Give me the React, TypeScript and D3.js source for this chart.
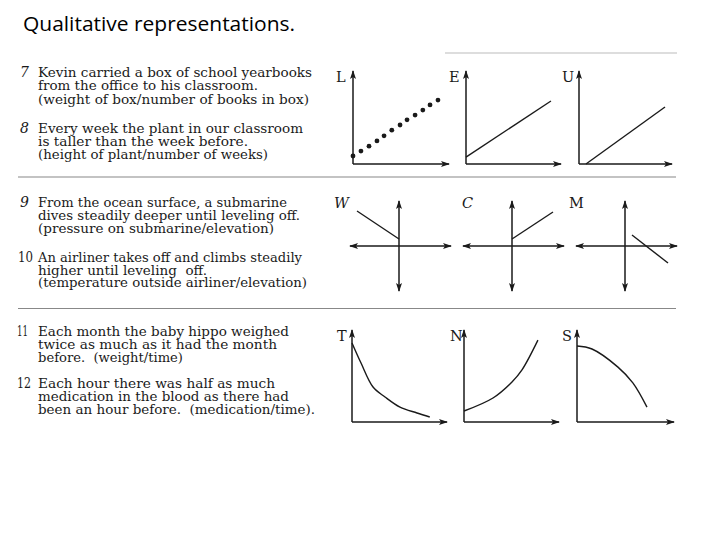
import React from "react";
import * as d3 from "d3";

// ---------- DATA ----------
const TITLE = "Qualitative representations.";

const ITEM_NUMBERS = ["7", "8", "9", "10", "11", "12"];
const ITEM_LINES: string[][] = [
  ["Kevin carried a box of school yearbooks", "from the office to his classroom.", "(weight of box/number of books in box)"],
  ["Every week the plant in our classroom", "is taller than the week before.", "(height of plant/number of weeks)"],
  ["From the ocean surface, a submarine", "dives steadily deeper until leveling off.", "(pressure on submarine/elevation)"],
  ["An airliner takes off and climbs steadily", "higher until leveling  off.", "(temperature outside airliner/elevation)"],
  ["Each month the baby hippo weighed", "twice as much as it had the month", "before.  (weight/time)"],
  ["Each hour there was half as much", "medication in the blood as there had", "been an hour before.  (medication/time)."],
];

// graph data in percent of axis length ([x, y])
const L_DOTS: [number, number][] = [
  [0, 8.5], [8.2, 13.8], [16.5, 19], [24.7, 24.5], [32, 30], [40, 36],
  [48.5, 41.5], [55.7, 47], [64, 52], [72, 57.4], [79.4, 62.8], [87.6, 68],
];
const E_LINE: [number, number][] = [[0, 7.4], [88.5, 67]];
const U_LINE: [number, number][] = [[7.4, 0], [91.5, 60.6]];

const W_LINE: [number, number][] = [[-42, 35], [0, 7]];
const C_LINE: [number, number][] = [[0, 7], [41, 34]];
const M_LINE: [number, number][] = [[7, 11], [43, -17]];

const T_CURVE: [number, number][] = [[0, 85], [9.4, 63.4], [21.9, 37.6], [34.4, 26.9], [50, 16], [67.7, 9.7], [81, 5.4]];
const N_CURVE: [number, number][] = [[0, 11.8], [30.2, 25.8], [50, 43], [60.4, 56], [77, 88]];
const S_CURVE: [number, number][] = [[0, 81.7], [15.3, 78.5], [41.8, 59], [57, 42], [71.4, 16]];

// ---------- LAYOUT ----------
const textLayout = [
  { numX: 20, numW: 0, baselines: [77, 90, 104], ends: [312, 258, 309], italic: true },
  { numX: 20, numW: 0, baselines: [132.5, 146, 158.5], ends: [303, 248, 268], italic: true },
  { numX: 20, numW: 0, baselines: [207, 220, 233], ends: [287, 300, 274], italic: true },
  { numX: 18, numW: 15, baselines: [261.5, 274.5, 287], ends: [302, 207, 307], italic: false },
  { numX: 17, numW: 11, baselines: [336, 349, 362], ends: [289, 277, 183], italic: false },
  { numX: 17, numW: 14, baselines: [388, 401, 414], ends: [275, 289, 315], italic: false },
];

type Quad = { label: string; ox: number; oy: number; xEnd: number; yTop: number; lx: number; data: [number, number][]; kind: "dots" | "line" | "curve" };
const quads: Quad[] = [
  { label: "L", ox: 353, oy: 164, xEnd: 450, yTop: 70, lx: 336, data: L_DOTS, kind: "dots" },
  { label: "E", ox: 466, oy: 164, xEnd: 562, yTop: 70, lx: 449, data: E_LINE, kind: "line" },
  { label: "U", ox: 579, oy: 164, xEnd: 673, yTop: 70, lx: 562, data: U_LINE, kind: "line" },
  { label: "T", ox: 352, oy: 422, xEnd: 448, yTop: 329, lx: 337, data: T_CURVE, kind: "curve" },
  { label: "N", ox: 464, oy: 422, xEnd: 560, yTop: 329, lx: 450, data: N_CURVE, kind: "curve" },
  { label: "S", ox: 577, oy: 422, xEnd: 675, yTop: 329, lx: 562, data: S_CURVE, kind: "curve" },
];

type Cross = { label: string; cx: number; cy: number; lx: number; italic: boolean; data: [number, number][] };
const crosses: Cross[] = [
  { label: "W", cx: 399, cy: 246, lx: 334, italic: true, data: W_LINE },
  { label: "C", cx: 512, cy: 246, lx: 462, italic: true, data: C_LINE },
  { label: "M", cx: 625, cy: 246, lx: 569, italic: false, data: M_LINE },
];

const SERIF = "'DejaVu Serif', 'Liberation Serif', serif";
const INK = "#1a1a1a";

function QuadGraph({ q }: { q: Quad }) {
  const x = d3.scaleLinear().domain([0, 100]).range([q.ox, q.xEnd]);
  const y = d3.scaleLinear().domain([0, 100]).range([q.oy, q.yTop]);
  const line = d3
    .line<[number, number]>()
    .x((d) => x(d[0]))
    .y((d) => y(d[1]))
    .curve(q.kind === "curve" ? d3.curveCatmullRom.alpha(0.5) : d3.curveLinear);
  const labelBase = q.yTop + 12;
  return (
    <g>
      <line x1={q.ox} y1={q.oy} x2={q.ox} y2={q.yTop + 1} stroke={INK} strokeWidth={1.5} markerEnd="url(#arr)" />
      <line x1={q.ox} y1={q.oy} x2={q.xEnd - 1} y2={q.oy} stroke={INK} strokeWidth={1.5} markerEnd="url(#arr)" />
      {q.kind === "dots"
        ? q.data.map((d, i) => <circle key={i} cx={x(d[0])} cy={y(d[1])} r={2.4} fill={INK} />)
        : <path d={line(q.data) || ""} fill="none" stroke={INK} strokeWidth={1.4} />}
      <text x={q.lx} y={labelBase} fontFamily={SERIF} fontSize={14.5} fill={INK}>{q.label}</text>
    </g>
  );
}

function CrossGraph({ c }: { c: Cross }) {
  const x = d3.scaleLinear().domain([-50, 50]).range([c.cx - 50, c.cx + 50]);
  const y = d3.scaleLinear().domain([-46, 46]).range([c.cy + 46, c.cy - 46]);
  const line = d3.line<[number, number]>().x((d) => x(d[0])).y((d) => y(d[1]));
  return (
    <g>
      <line x1={x(-49)} y1={y(0)} x2={x(52)} y2={y(0)} stroke={INK} strokeWidth={1.5} markerStart="url(#arr2)" markerEnd="url(#arr)" />
      <line x1={x(0)} y1={y(-45)} x2={x(0)} y2={y(45)} stroke={INK} strokeWidth={1.5} markerStart="url(#arr2)" markerEnd="url(#arr)" />
      <path d={line(c.data) || ""} fill="none" stroke={INK} strokeWidth={1.4} />
      <text x={c.lx} y={208} fontFamily={SERIF} fontSize={14.5} fontStyle={c.italic ? "italic" : "normal"} fill={INK}>{c.label}</text>
    </g>
  );
}

export default function App() {
  return (
    <svg width={720} height={540} style={{ position: "absolute", left: 0, top: 0, background: "#fff" }}>
      <defs>
        <marker id="arr" viewBox="0 0 9 6" refX={8} refY={3} markerWidth={9} markerHeight={6} markerUnits="userSpaceOnUse" orient="auto">
          <path d="M0,0 L9,3 L0,6 L2,3 z" fill={INK} />
        </marker>
        <marker id="arr2" viewBox="0 0 9 6" refX={8} refY={3} markerWidth={9} markerHeight={6} markerUnits="userSpaceOnUse" orient="auto-start-reverse">
          <path d="M0,0 L9,3 L0,6 L2,3 z" fill={INK} />
        </marker>
      </defs>
      <rect x={0} y={0} width={720} height={540} fill="#fff" />
      <text x={23} y={31} fontFamily="'Open Sans', 'Noto Sans', sans-serif" fontSize={20} textLength={272} lengthAdjust="spacingAndGlyphs" fill="#000">{TITLE}</text>

      {/* rules */}
      <line x1={445} y1={53} x2={677} y2={53} stroke="#bbb" strokeWidth={1} />
      <line x1={18} y1={177} x2={676} y2={177} stroke="#888" strokeWidth={1.2} />
      <line x1={18} y1={308.5} x2={676} y2={308.5} stroke="#888" strokeWidth={1.2} />

      {ITEM_LINES.map((lines, i) => {
        const lay = textLayout[i];
        return (
          <g key={i}>
            <text x={lay.numX} y={lay.baselines[0]} fontFamily={SERIF} fontSize={14} fontStyle={lay.italic ? "italic" : "normal"} fill={INK}
              {...(lay.numW ? { textLength: lay.numW, lengthAdjust: "spacingAndGlyphs" } : {})}>{ITEM_NUMBERS[i]}</text>
            {lines.map((ln, j) => (
              <text key={j} x={38} y={lay.baselines[j]} fontFamily={SERIF} fontSize={12} textLength={lay.ends[j] - 38} lengthAdjust="spacingAndGlyphs" fill={INK} xmlSpace="preserve">{ln}</text>
            ))}
          </g>
        );
      })}

      {quads.map((q) => <QuadGraph key={q.label} q={q} />)}
      {crosses.map((c) => <CrossGraph key={c.label} c={c} />)}
    </svg>
  );
}
